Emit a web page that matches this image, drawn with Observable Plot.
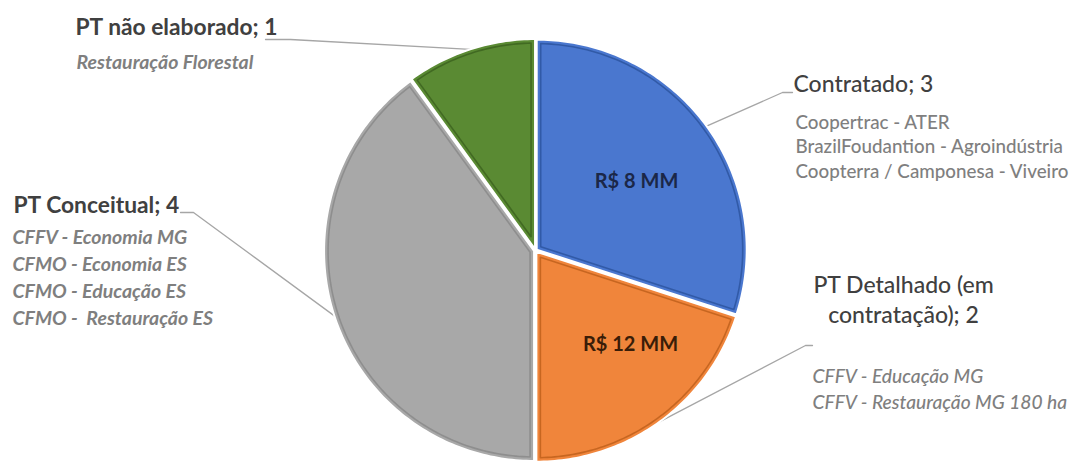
<!DOCTYPE html>
<html>
<head>
<meta charset="utf-8">
<script src="https://cdn.jsdelivr.net/npm/d3@7"></script>
<script src="https://cdn.jsdelivr.net/npm/@observablehq/plot@0.6"></script>
<style>
  html, body { margin: 0; padding: 0; background: #ffffff; }
  #chart svg { display: block; }
</style>
</head>
<body>
<div id="chart"></div>
<script>
// ---------- DATA ----------
const categories = ["Contratado", "PT Detalhado (em contratação)", "PT Conceitual", "PT não elaborado"];
const counts = [3, 2, 4, 1];
const headLines = [
  ["Contratado; 3"],
  ["PT Detalhado (em", "contratação); 2"],
  ["PT Conceitual; 4"],
  ["PT não elaborado; 1"]
];
const detailLines = [
  ["Coopertrac - ATER", "BrazilFoudantion - Agroindústria", "Coopterra / Camponesa - Viveiro"],
  ["CFFV - Educação MG", "CFFV - Restauração MG 180 ha"],
  ["CFFV - Economia MG", "CFMO - Economia ES", "CFMO - Educação ES", "CFMO -  Restauração ES"],
  ["Restauração Florestal"]
];
const valueLabels = ["R$ 8 MM", "R$ 12 MM", "", ""];

// ---------- STYLE / LAYOUT ----------
const fills = ["#4a77cf", "#f0853b", "#a8a8a8", "#5a8a33"];
const edges = ["#2d55a0", "#c0601c", "#8a8a8a", "#3d6420"];
const valueColors = ["#1b2748", "#3a1d08", "#000", "#000"];
const W = 1077, H = 461, CX = 535, CY = 250, R = 210;
const headAt = [[793, 91], [903, 292], [13, 212], [75, 34]];
const headAnchor = ["start", "middle", "start", "start"];
const headStep = 30;
const detailAt = [[795, 128], [812, 382], [12, 243], [76, 68]];
const detailStep = [24.5, 26, 27, 0];
const leaderPath = [
  [[782, 92], [792, 92]],
  [[805, 345], [812, 345]],
  [[193, 212], [180, 212]],
  [[290, 39], [265, 39]]
];
const valueAt = [[636, 187], [630, 350], null, null];
const explode = 1.5 / R;

const toU = ([px, py]) => ({x: (px - CX) / R, y: (CY - py) / R});

// ---------- GEOMETRY (from data through d3.pie) ----------
const rows = categories.map((c, i) => ({category: c, count: counts[i], i}));
const arcs = d3.pie().sort(null).value(d => d.count)(rows);

function sector(a0, a1, r, off, inset) {
  const mid = (a0 + a1) / 2;
  const half = (a1 - a0) / 2;
  const apex = off + (inset ? inset / Math.sin(Math.min(half, Math.PI / 2)) : 0);
  const ox = apex * Math.sin(mid), oy = apex * Math.cos(mid);
  const cx0 = off * Math.sin(mid), cy0 = off * Math.cos(mid);
  const rr = r - (inset || 0);
  const da = inset ? Math.asin(inset / rr) : 0;
  const b0 = a0 + da, b1 = a1 - da;
  const n = Math.max(8, Math.ceil((b1 - b0) / (Math.PI / 180)));
  const pts = [{x: ox, y: oy}];
  for (let k = 0; k <= n; k++) {
    const a = b0 + (b1 - b0) * k / n;
    pts.push({x: cx0 + rr * Math.sin(a), y: cy0 + rr * Math.cos(a)});
  }
  return pts;
}

const sliceMarks = [];
arcs.forEach((a, i) => {
  sliceMarks.push(Plot.line(sector(a.startAngle, a.endAngle, 1, explode, 0), {
    x: "x", y: "y", curve: "linear-closed", fill: fills[i], stroke: "#ffffff", strokeWidth: 2
  }));
  sliceMarks.push(Plot.line(sector(a.startAngle, a.endAngle, 1, explode, 4 / R), {
    x: "x", y: "y", curve: "linear-closed", fill: "none", stroke: edges[i], strokeWidth: 1.6, strokeOpacity: 0.85
  }));
});

// leader lines: start at slice edge, mid-angle
const leaderMarks = arcs.map((a, i) => {
  const mid = (a.startAngle + a.endAngle) / 2;
  const r0 = 1 + explode;
  const pts = [{x: r0 * Math.sin(mid), y: r0 * Math.cos(mid)}, ...leaderPath[i].map(toU)];
  return Plot.line(pts, {x: "x", y: "y", stroke: "#a6a6a6", strokeWidth: 1.3});
});

// text data
const headLeft = [], headRight = [], detLeft = [], detRight = [], detRightItal = [], valueText = [];
arcs.forEach((a, i) => {
  headLines[i].forEach((t, k) => {
    const p = toU([headAt[i][0], headAt[i][1] + k * headStep]);
    const rec = {...p, text: t, anchor: headAnchor[i]};
    (headAt[i][0] < CX ? headLeft : headRight).push(rec);
  });
  detailLines[i].forEach((t, k) => {
    const p = toU([detailAt[i][0], detailAt[i][1] + k * detailStep[i]]);
    const rec = {...p, text: t};
    if (detailAt[i][0] < CX) detLeft.push(rec);
    else if (i === 0) detRight.push(rec);
    else detRightItal.push(rec);
  });
  if (valueLabels[i]) valueText.push({...toU(valueAt[i]), text: valueLabels[i], color: valueColors[i]});
});

const chart = Plot.plot({
  width: W, height: H, margin: 0,
  x: {domain: [-CX / R, (W - CX) / R], axis: null},
  y: {domain: [-(H - CY) / R, CY / R], axis: null},
  style: {fontFamily: "Lato, 'Open Sans', sans-serif", background: "#ffffff", overflow: "visible"},
  marks: [
    ...leaderMarks,
    ...sliceMarks,
    Plot.text(headLeft, {x: "x", y: "y", text: "text", textAnchor: "start", lineAnchor: "bottom",
      fontSize: 22.8, fontWeight: "bold", fill: "#404040"}),
    Plot.text(headRight.filter(d => d.anchor === "start"), {x: "x", y: "y", text: "text", textAnchor: "start", lineAnchor: "bottom",
      fontSize: 23, fontWeight: 500, fill: "#404040"}),
    Plot.text(headRight.filter(d => d.anchor === "middle"), {x: "x", y: "y", text: "text", textAnchor: "middle", lineAnchor: "bottom",
      fontSize: 23, fontWeight: 500, fill: "#404040"}),
    Plot.text(detLeft, {x: "x", y: "y", text: "text", textAnchor: "start", lineAnchor: "bottom",
      fontSize: 19.5, fontWeight: "bold", fontStyle: "italic", fill: "#7f7f7f"}),
    Plot.text(detRight, {x: "x", y: "y", text: "text", textAnchor: "start", lineAnchor: "bottom",
      fontSize: 18.8, fontWeight: 500, fill: "#7f7f7f"}),
    Plot.text(detRightItal, {x: "x", y: "y", text: "text", textAnchor: "start", lineAnchor: "bottom",
      fontSize: 19.2, fontWeight: 500, fontStyle: "italic", fill: "#7f7f7f"}),
    Plot.text(valueText, {x: "x", y: "y", text: "text", textAnchor: "middle", lineAnchor: "bottom",
      fontSize: 20, fontWeight: "bold", fill: d => d.color})
  ]
});
document.getElementById("chart").appendChild(chart);
</script>
</body>
</html>
